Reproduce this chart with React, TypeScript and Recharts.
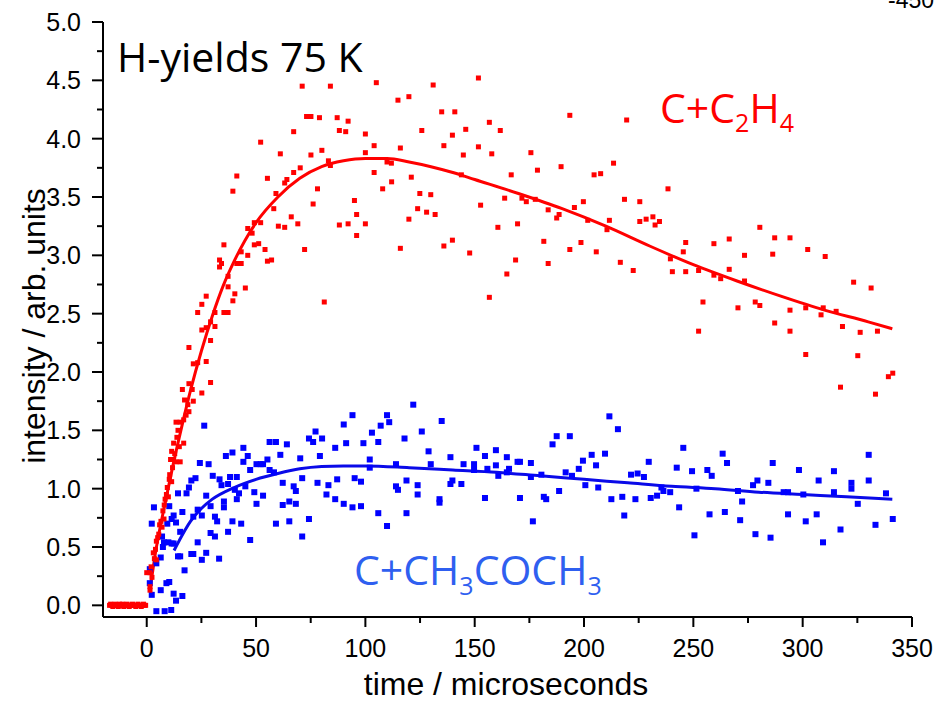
import React from 'react';
import { ComposedChart, Scatter, Line, XAxis, YAxis } from 'recharts';

// axis ticks (every 25 on x, every 0.25 on y; labels only on the majors)
const xTicks = [0, 25, 50, 75, 100, 125, 150, 175, 200, 225, 250, 275, 300, 325, 350];
const yTicks = [0, 0.25, 0.5, 0.75, 1, 1.25, 1.5, 1.75, 2, 2.25, 2.5, 2.75, 3, 3.25, 3.5, 3.75, 4, 4.25, 4.5, 4.75, 5];

// red baseline before t = 0
const redBaseT = [-17, -16.5, -16, -15.5, -15, -14.5, -14, -13.5, -13, -12.5, -12, -11.5, -11, -10.5, -10, -9.5, -9, -8.5, -8, -7.5, -7, -6.5, -6, -5.5, -5, -4.5, -4, -3.5, -3, -2.5, -2, -1.5, -1, -0.5];
const redBaseV = [0.0, 0.01, 0.0, -0.01, 0.0, 0.01, 0.0, 0.0, -0.01, 0.01, 0.0, 0.0, 0.01, -0.01, 0.0, 0.0, 0.01, 0.0, -0.01, 0.0, 0.0, 0.01, 0.0, 0.0, -0.01, 0.0, 0.01, 0.0, 0.0, -0.01, 0.0, 0.01, 0.0, 0.0];

// C + C2H4 data points [time, intensity]
const redPoints: [number, number][] = [
  [0, 0.28], [1.5, 0.28], [1.5, 0.16], [1.5, 0.13], [2.0, 0.33], [2.4, 0.24], [3.0, 0.45], [3.5, 0.40], [4.4, 0.39], [4.0, 0.48],
  [4.4, 0.55], [5.0, 0.58], [5.5, 0.61], [5.9, 0.69], [6.5, 0.72], [7.0, 0.67], [7.4, 0.81], [7.9, 0.74], [8.0, 0.86], [8.4, 0.91],
  [9.0, 0.95], [9.9, 0.93], [9.4, 1.01], [10.3, 1.08], [10.5, 1.12], [11.4, 1.06], [11.8, 1.18], [10.9, 1.25], [12.3, 1.25], [12.8, 1.30],
  [13.4, 1.23], [15.3, 1.23], [11.4, 1.32], [14.9, 1.36], [12.3, 1.39], [13.8, 1.44], [16.9, 1.39], [14.3, 1.50], [13.4, 1.57], [15.3, 1.57],
  [16.9, 1.59], [18.0, 1.63], [19.3, 1.66], [18.8, 1.72], [17.3, 1.76], [21.3, 1.75], [16.3, 1.85], [20.8, 1.85], [19.3, 1.90], [25.2, 1.82],
  [21.3, 2.07], [23.3, 2.08], [27.2, 2.09], [29.2, 1.91],
  [19.3, 2.21], [23.3, 2.51], [25.2, 2.58], [27.2, 2.65], [25.2, 2.36], [27.2, 2.38], [29.2, 2.43], [29.2, 2.27], [31.2, 2.39], [31.2, 2.51],
  [33.3, 2.96], [33.3, 2.90], [34.2, 2.93], [35.3, 3.09], [35.3, 2.51], [37.2, 2.51], [37.2, 2.73], [37.2, 2.82], [39.4, 3.55], [39.4, 2.61],
  [40.3, 2.67], [41.2, 3.68], [41.2, 2.93], [43.2, 2.93], [43.2, 3.03], [45.1, 2.72], [46.2, 3.00], [46.2, 3.23], [48.2, 3.19], [49.2, 3.09],
  [49.2, 3.28], [51.2, 3.10], [52.1, 3.28], [52.1, 3.97], [54.1, 3.05], [55.2, 2.95], [55.2, 3.66], [57.1, 2.96], [58.1, 3.40], [59.1, 3.53],
  [60.2, 3.25], [61.1, 3.87], [63.1, 3.24], [63.1, 3.62], [64.1, 3.65], [66.1, 3.33], [67.2, 3.71], [67.2, 4.06], [69.1, 3.27], [70.2, 3.75],
  [71.1, 4.45], [72.2, 3.05], [73.1, 4.19], [75.1, 4.19], [75.1, 3.86], [76.1, 3.44], [78.1, 3.57], [79.0, 4.18], [80.1, 3.90], [81.2, 2.60],
  [83.1, 3.81], [84.0, 3.77], [84.0, 4.45], [87.1, 4.18], [88.1, 4.07], [88.1, 3.26], [91.0, 4.06], [92.1, 4.15], [92.1, 3.27], [95.0, 3.47],
  [96.0, 3.35], [96.0, 3.17], [100.0, 4.04], [100.0, 3.88], [100.0, 3.27], [104.0, 3.94], [104.0, 3.71], [105.0, 4.48], [107.9, 3.57], [109.9, 3.80],
  [111.9, 3.79], [112.0, 3.63], [114.9, 4.33], [116.0, 3.92], [116.0, 3.06], [119.9, 4.36], [119.9, 3.31], [121.0, 3.67], [124.9, 3.53], [123.9, 3.40],
  [125.8, 4.07], [128.0, 3.37], [129.9, 3.52], [131.0, 4.46], [131.9, 3.35], [134.9, 4.23], [135.9, 3.94], [135.9, 3.08], [139.8, 4.03], [139.8, 3.13],
  [140.9, 4.23], [143.9, 3.69], [144.8, 3.86], [145.9, 4.08], [147.7, 3.02],
  [151.7, 4.52], [151.7, 3.93], [152.7, 3.43], [156.7, 4.14], [157.8, 3.87], [156.7, 2.64], [160.6, 3.24], [161.7, 4.07], [163.7, 3.49], [164.7, 2.84],
  [166.7, 3.69], [168.7, 2.96], [169.6, 3.27], [171.6, 3.49], [173.6, 3.46], [175.7, 3.88], [177.7, 3.48], [178.7, 3.73], [181.6, 3.12], [183.6, 3.39],
  [183.6, 2.93], [187.5, 3.32], [188.6, 3.35], [189.5, 3.76], [193.5, 4.20], [193.5, 3.05], [195.6, 3.41], [198.6, 3.11], [199.7, 3.46], [201.7, 3.30],
  [204.6, 3.69], [205.6, 3.03], [207.6, 3.70], [210.5, 3.22], [211.6, 3.30], [213.5, 3.79], [216.6, 2.94], [218.5, 3.48], [219.5, 4.16], [222.5, 2.87],
  [225.5, 3.46], [225.5, 3.29], [228.4, 3.31], [231.5, 3.33], [232.5, 3.26], [234.5, 3.29], [238.4, 3.57], [239.5, 2.97], [240.4, 2.86], [245.4, 3.03],
  [246.5, 3.11], [246.5, 2.86], [252.4, 2.87], [252.4, 2.35], [254.4, 2.60], [259.4, 3.10], [259.4, 2.83], [262.5, 2.80], [266.4, 3.14], [266.4, 2.88],
  [270.4, 2.55], [273.4, 3.00], [273.4, 2.78], [278.3, 2.60], [280.4, 3.24], [280.4, 2.57], [286.3, 3.01], [287.2, 3.15], [287.2, 2.42], [294.2, 3.15],
  [294.2, 2.53], [294.2, 2.35], [301.4, 2.55], [301.4, 2.15], [302.3, 3.05], [308.4, 2.49], [309.4, 2.55], [310.3, 2.99], [315.3, 2.52], [318.2, 2.39],
  [323.3, 2.77], [325.2, 2.14], [326.3, 2.34], [331.3, 2.72], [334.2, 2.35], [317.3, 1.87], [333.3, 1.81], [339.2, 1.96], [341.2, 1.99],
];

// C + CH3COCH3 data points [time, intensity]
const bluePoints: [number, number][] = [
  [1.4, 0.19], [1.4, 0.31], [2.3, 0.09], [2.3, 0.70], [3.3, 0.84], [4.4, -0.05], [4.4, 0.36], [6.4, 0.13], [6.4, 0.41], [7.0, 0.59],
  [7.4, 0.50], [8.2, -0.05], [9.0, 0.19], [10.3, 0.20], [9.4, 0.70], [10.3, 0.85], [7.9, 0.54], [9.9, 0.54], [11.4, 0.53], [12.3, 0.53],
  [11.2, -0.04], [12.3, 0.10], [13.4, 0.04], [12.3, 0.77], [11.4, 0.74], [13.4, 0.71], [14.3, 0.42], [15.3, 0.42], [16.3, 0.08], [17.3, 0.30],
  [15.3, 0.63], [16.3, 0.80], [14.3, 0.96], [18.2, 0.96], [19.3, 1.01], [20.4, 1.07], [22.3, 1.09], [20.4, 0.44], [21.3, 0.44], [23.3, 0.54],
  [21.3, 0.76], [23.3, 0.82], [26.3, 1.54], [24.3, 1.22], [27.2, 0.94], [25.2, 0.77], [27.2, 0.45], [25.2, 0.39], [28.3, 1.21], [29.2, 0.85],
  [30.2, 1.11], [29.2, 0.62], [31.2, 0.59], [31.2, 0.76], [32.2, 0.72], [33.1, 0.40], [33.3, 1.08], [34.2, 1.03], [35.3, 0.89], [35.3, 0.84],
  [36.2, 1.28], [37.2, 1.04], [37.2, 0.63], [38.1, 1.10], [39.2, 1.31], [39.2, 0.72], [40.3, 0.99], [41.2, 0.91], [41.2, 1.10], [42.2, 0.96],
  [43.2, 0.70], [44.2, 1.35], [44.2, 1.23], [45.1, 1.02], [46.2, 1.28], [47.3, 1.16], [47.3, 0.56], [49.2, 0.97], [50.2, 0.87], [50.2, 1.21],
  [52.1, 1.21], [53.2, 1.21], [53.2, 0.94], [55.2, 1.25], [56.2, 1.40], [56.2, 1.16], [58.2, 1.14], [59.1, 1.40], [59.1, 0.70], [61.1, 1.29],
  [62.2, 1.05], [62.2, 0.86], [64.1, 1.38], [65.2, 0.89], [65.2, 0.72], [67.2, 1.02], [68.2, 0.98], [68.2, 0.87], [70.2, 1.26], [71.1, 1.09],
  [71.1, 0.59], [74.2, 1.43], [74.2, 0.74], [76.1, 1.40], [77.2, 1.49], [78.1, 1.05], [79.2, 1.28], [80.2, 1.43], [82.2, 0.95], [83.1, 1.03],
  [86.2, 1.35], [86.2, 0.91], [87.1, 1.08], [90.1, 1.55], [90.1, 0.87], [91.2, 1.39], [94.1, 1.63], [94.1, 0.84], [95.1, 1.09], [98.0, 1.06],
  [98.0, 0.85], [99.1, 1.39], [102.0, 1.25], [102.0, 1.18], [103.0, 1.48], [105.9, 1.40], [105.9, 0.79], [107.0, 1.54], [109.9, 1.63], [109.9, 0.68],
  [110.9, 1.57], [114.0, 1.21], [114.0, 1.02], [114.9, 0.99], [117.9, 1.43], [118.8, 1.07], [118.8, 0.79], [121.9, 1.72], [123.9, 1.03], [123.9, 0.95],
  [125.8, 1.49], [128.9, 1.32], [129.9, 1.21], [133.9, 0.91], [133.9, 0.88], [134.9, 1.58], [138.9, 1.27], [138.9, 1.04], [139.8, 1.07], [143.9, 1.04],
  [144.9, 1.21], [149.7, 1.21], [149.7, 1.16], [150.8, 1.35], [154.7, 1.28], [154.7, 0.92], [155.8, 1.17], [159.7, 1.33], [159.7, 1.20], [160.8, 1.11],
  [164.7, 1.27], [164.7, 1.14], [165.7, 1.17], [169.6, 1.23], [170.7, 1.23], [170.7, 0.92], [175.7, 1.22], [175.7, 1.10], [176.6, 0.72], [180.5, 1.12],
  [181.6, 0.93], [182.7, 0.91], [185.6, 1.38], [187.5, 1.45], [188.6, 0.98], [191.6, 1.14], [193.5, 1.45], [194.5, 1.11], [197.6, 1.17], [199.5, 1.24],
  [200.6, 1.03], [203.5, 1.29], [205.5, 1.20], [206.5, 1.01], [209.6, 1.30], [211.6, 1.62], [212.5, 0.91], [215.5, 1.51], [217.5, 0.93], [218.4, 0.77],
  [221.5, 1.12], [223.5, 0.91], [224.5, 1.13], [227.4, 1.10], [229.6, 1.23], [230.5, 0.92], [233.4, 0.94], [235.4, 1.01], [236.3, 0.98], [239.4, 0.97],
  [242.4, 1.18], [243.5, 0.84], [245.4, 1.35], [249.4, 1.15], [250.5, 0.60], [251.4, 1.00], [256.4, 1.16], [257.4, 0.78], [258.4, 1.11], [263.4, 1.30],
  [264.4, 0.80], [265.4, 1.22], [270.4, 0.98], [271.4, 0.73], [272.3, 0.89], [277.3, 1.03], [278.4, 0.61], [279.3, 1.07], [284.3, 1.05], [285.3, 0.58],
  [286.3, 1.22], [291.3, 0.97], [293.3, 0.97], [293.3, 0.78], [298.3, 1.16], [300.3, 0.95], [301.4, 0.72], [306.4, 0.78], [307.3, 1.07], [309.3, 0.54],
  [314.3, 1.15], [314.3, 0.97], [317.3, 0.65], [322.3, 1.05], [322.3, 1.00], [325.2, 0.87], [330.2, 1.29], [330.2, 1.07], [333.3, 0.69], [338.1, 0.96],
  [341.2, 0.74],
];

// fitted curves
const redFitT = [1.5, 4, 8, 12, 16, 20, 25, 30, 35, 40, 45, 50, 60, 70, 80, 90, 100, 110, 120, 130, 140, 150, 170, 190, 210, 230, 250, 270, 290, 310, 330, 341];
const redFitV = [0.13, 0.45, 0.84, 1.2, 1.53, 1.84, 2.18, 2.48, 2.74, 2.95, 3.13, 3.28, 3.5, 3.66, 3.76, 3.81, 3.83, 3.83, 3.8, 3.76, 3.71, 3.65, 3.53, 3.4, 3.25, 3.08, 2.92, 2.78, 2.65, 2.53, 2.43, 2.37];
const blueFitT = [12.5, 15, 20, 25, 30, 40, 50, 60, 70, 80, 90, 100, 120, 140, 160, 180, 200, 220, 240, 260, 280, 300, 320, 341];
const blueFitV = [0.47, 0.56, 0.72, 0.83, 0.91, 1.01, 1.08, 1.13, 1.17, 1.19, 1.195, 1.195, 1.18, 1.16, 1.14, 1.11, 1.08, 1.05, 1.02, 1.0, 0.97, 0.95, 0.93, 0.91];

const RED = '#ff0000';
const BLUE = '#0000ff';
const AXIS_FONT = '"Liberation Sans", Arial, sans-serif';
const NOTE_FONT = '"Open Sans", "Noto Sans", sans-serif';

const redData = [
  ...redBaseT.map((t, i) => ({ t, v: redBaseV[i] })),
  ...redPoints.map(([t, v]) => ({ t, v })),
];
const blueData = bluePoints.map(([t, v]) => ({ t, v }));
const redFit = redFitT.map((t, i) => ({ t, v: redFitV[i] }));
const blueFit = blueFitT.map((t, i) => ({ t, v: blueFitV[i] }));

const square = (size: number, color: string) => (props: any) => {
  const { cx, cy } = props;
  if (cx == null || cy == null) return <g />;
  return <rect x={cx - size / 2} y={cy - size / 2} width={size} height={size} fill={color} />;
};

// x ticks: both top and bottom ticks point downwards, labels only at the bottom
const XTick = (props: any) => {
  const { x, y, payload, side } = props;
  const major = payload.value % 50 === 0;
  return (
    <g>
      <line x1={x} x2={x} y1={y} y2={y + (major ? 10 : 6)} stroke="#000" strokeWidth={2} />
      {side === 'bottom' && major && (
        <text x={x} y={y + 40} textAnchor="middle" fontSize={25} fontFamily={AXIS_FONT} fill="#000">
          {payload.value}
        </text>
      )}
    </g>
  );
};

// y ticks: both left and right ticks point to the left
const YTick = (props: any) => {
  const { x, y, payload, side } = props;
  const v = payload.value;
  const major = Math.abs(v * 2 - Math.round(v * 2)) < 1e-6;
  return (
    <g>
      <line x1={x} x2={x - (major ? 11 : 6)} y1={y} y2={y} stroke="#000" strokeWidth={2} />
      {side === 'left' && major && (
        <text x={x - 22} y={y + 9} textAnchor="end" fontSize={25} fontFamily={AXIS_FONT} fill="#000">
          {v.toFixed(1)}
        </text>
      )}
    </g>
  );
};

const axisLine = { stroke: '#000', strokeWidth: 2 };

export default function App() {
  return (
    <div style={{ position: 'absolute', left: 0, top: 0, width: 935, height: 711, background: '#fff' }}>
      <ComposedChart width={935} height={711} margin={{ top: 22, right: 23, bottom: 0, left: 0 }}>
        <XAxis
          xAxisId="b" dataKey="t" type="number" orientation="bottom" domain={[-20, 350]} allowDataOverflow
          ticks={xTicks} interval={0} height={94} tickSize={0} tickMargin={0} tickLine={false}
          axisLine={axisLine} tick={(p: any) => <XTick {...p} side="bottom" />}
        />
        <XAxis
          xAxisId="top" dataKey="t" type="number" orientation="top" domain={[-20, 350]} allowDataOverflow
          ticks={xTicks} interval={0} height={0} tickSize={0} tickMargin={0} tickLine={false}
          axisLine={axisLine} tick={(p: any) => <XTick {...p} side="top" />}
        />
        <YAxis
          yAxisId="l" dataKey="v" type="number" orientation="left" domain={[-0.1, 5]} allowDataOverflow
          ticks={yTicks} interval={0} width={103} tickSize={0} tickMargin={0} tickLine={false}
          axisLine={axisLine} tick={(p: any) => <YTick {...p} side="left" />}
        />
        <YAxis
          yAxisId="right" dataKey="v" type="number" orientation="right" domain={[-0.1, 5]} allowDataOverflow
          ticks={yTicks} interval={0} width={0} tickSize={0} tickMargin={0} tickLine={false}
          axisLine={axisLine} tick={(p: any) => <YTick {...p} side="right" />}
        />
        <Scatter xAxisId="b" yAxisId="l" data={blueData} dataKey="v" shape={square(6, BLUE)} isAnimationActive={false} />
        <Scatter xAxisId="b" yAxisId="l" data={redData} dataKey="v" shape={square(5, RED)} isAnimationActive={false} />
        <Line xAxisId="b" yAxisId="l" data={blueFit} dataKey="v" type="monotone" stroke="#0a0ae8" strokeWidth={3} dot={false} activeDot={false} isAnimationActive={false} />
        <Line xAxisId="b" yAxisId="l" data={redFit} dataKey="v" type="monotone" stroke={RED} strokeWidth={3} dot={false} activeDot={false} isAnimationActive={false} />
      </ComposedChart>
      <svg width={935} height={711} style={{ position: 'absolute', left: 0, top: 0, pointerEvents: 'none' }}>
        <text transform="translate(45,326) rotate(-90)" textAnchor="middle" fontSize={32} fontFamily={AXIS_FONT} fill="#000">
          intensity / arb. units
        </text>
        <text x={506} y={695} textAnchor="middle" fontSize={32} fontFamily={AXIS_FONT} fill="#000">
          time / microseconds
        </text>
        <text x={888} y={8} fontSize={23} fontFamily={AXIS_FONT} fill="#000">-450</text>
        <text x={117} y={72} fontSize={41} fontFamily={NOTE_FONT} fill="#000">H-yields 75 K</text>
        <text x={660} y={123} fontSize={41} fontFamily={NOTE_FONT} fill={RED}>
          C+C<tspan fontSize={25} dy={9}>2</tspan><tspan dy={-9}>H</tspan><tspan fontSize={25} dy={9}>4</tspan>
        </text>
        <text x={354} y={585} fontSize={41} fontFamily={NOTE_FONT} fill="#2f5ff0">
          C+CH<tspan fontSize={25} dy={10}>3</tspan><tspan dy={-10}>COCH</tspan><tspan fontSize={25} dy={10}>3</tspan>
        </text>
      </svg>
    </div>
  );
}
